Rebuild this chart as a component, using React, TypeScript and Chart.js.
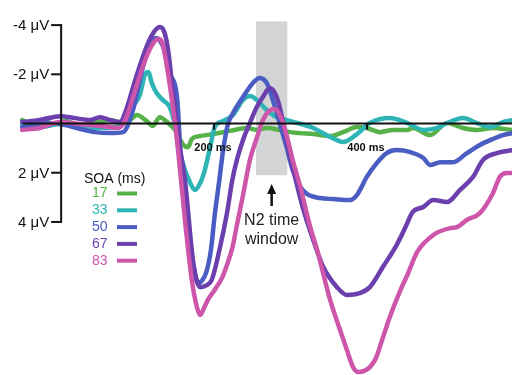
import React, { useEffect, useRef } from "react";
import { Chart, registerables } from "chart.js";

Chart.register(...registerables);

// ---------- data ----------
const soaLabels = ["17", "33", "50", "67", "83"];
const seriesColors = ["#55b148", "#2fb4b6", "#4a5dc2", "#6b3fae", "#cd56aa"];

const xRange = [-80, 590];
const yRange = [-5.02, 10.22];

const yTicks = [-4, -2, 2, 4];
const yTickLabels = ["-4 \u03bcV", "-2 \u03bcV", "2 \u03bcV", "4 \u03bcV"];
const xTicks = [200, 400];
const xTickLabels = ["200 ms", "400 ms"];
const axisStart = -50;

const windowStart = 255;
const windowEnd = 296;
const windowTop = -4.15;
const windowBottom = 2.1;
const windowLabel = ["N2 time", "window"];
const legendTitle = "SOA (ms)";

const ms17 = [-51, -37, -21, -8, 5, 25, 44, 64, 77, 90, 99, 112, 120, 129, 140, 149, 160, 166, 171, 182, 199, 221, 243, 256, 269, 286, 300, 313, 330, 352, 369, 387, 400, 417, 434, 453, 460, 483, 505, 526, 544, 565, 590];
const uv17 = [-0.14, 0.06, -0.06, 0.02, -0.1, 0.06, -0.02, -0.14, -0.06, -0.14, -0.35, -0.1, 0.1, -0.26, -0.02, 0.26, 0.87, 0.96, 0.63, 0.51, 0.43, 0.3, 0.18, 0.26, 0.18, 0.26, 0.35, 0.39, 0.43, 0.51, 0.35, 0.14, 0.18, 0.35, 0.26, 0.26, 0.18, 0.47, -0.02, 0.18, 0.26, 0.18, 0.26];

const ms33 = [-51, -28, -1, 25, 51, 71, 80, 86, 95, 103, 110, 114, 119, 125, 133, 142, 149, 158, 169, 175, 182, 188, 195, 201, 212, 225, 238, 247, 256, 269, 282, 295, 309, 330, 352, 369, 387, 404, 430, 453, 474, 492, 505, 526, 544, 561, 578, 590];
const uv33 = [0.02, 0.14, 0.02, 0.14, 0.18, 0.14, 0.02, -0.26, -0.75, -1.16, -2.01, -2.09, -1.61, -1.24, -0.96, -0.67, 0.06, 1.48, 2.42, 2.7, 2.42, 1.89, 0.96, 0.14, -0.1, -0.35, -0.96, -1.12, -0.96, -0.55, -0.26, -0.14, -0.02, 0.18, 0.55, 0.75, 0.43, -0.02, -0.22, -0.02, 0.26, 0.18, -0.02, -0.22, -0.02, 0.14, -0.06, -0.14];

const ms50 = [-51, -34, -15, 5, 25, 44, 64, 81, 94, 107, 116, 124, 129, 135, 142, 152, 158, 166, 175, 179, 184, 190, 196, 201, 207, 212, 218, 225, 238, 251, 260, 269, 277, 286, 295, 303, 313, 322, 339, 356, 378, 387, 400, 413, 426, 439, 457, 474, 483, 496, 513, 531, 548, 565, 578, 590];
const uv50 = [0.14, 0.06, -0.02, 0.06, 0.22, 0.35, 0.39, 0.35, -0.55, -2.3, -3.19, -3.48, -3.39, -2.98, -2.05, -0.96, 2.3, 4.33, 6.08, 6.48, 6.4, 6.04, 5.14, 3.72, 2.3, 1.08, 0.06, -0.43, -1.08, -1.65, -1.85, -1.65, -0.96, -0.02, 0.96, 1.89, 2.58, 2.87, 3.03, 3.07, 3.11, 2.91, 2.17, 1.61, 1.2, 1.08, 1.16, 1.4, 1.69, 1.57, 1.57, 1.2, 0.87, 0.63, 0.47, 0.39];

const ms67 = [-51, -28, -1, 18, 38, 51, 64, 77, 85, 97, 110, 119, 129, 135, 140, 146, 156, 162, 173, 182, 190, 197, 208, 217, 224, 230, 238, 247, 256, 264, 273, 282, 289, 295, 303, 316, 330, 343, 361, 374, 391, 404, 421, 439, 450, 460, 474, 487, 505, 522, 539, 552, 570, 590];
const uv67 = [-0.06, -0.14, -0.3, -0.22, -0.14, -0.26, -0.14, -0.06, -0.55, -1.77, -2.98, -3.6, -3.92, -3.72, -2.98, -1.36, 1.08, 2.3, 5.67, 6.65, 6.58, 6.36, 5.02, 3.64, 2.3, 1.48, 0.67, -0.02, -0.67, -1.08, -1.44, -1.08, -0.26, 0.67, 1.77, 3.39, 4.74, 5.83, 6.65, 6.97, 6.89, 6.65, 5.83, 4.94, 4.25, 3.6, 3.39, 3.11, 3.19, 2.7, 2.17, 1.48, 1.2, 1.08];

const ms83 = [-51, -28, -1, 25, 51, 75, 84, 97, 110, 119, 127, 132, 137, 145, 153, 162, 171, 178, 182, 187, 192, 199, 205, 211, 217, 224, 230, 238, 247, 256, 264, 272, 280, 288, 295, 303, 313, 326, 335, 352, 365, 374, 382, 389, 396, 404, 412, 420, 430, 444, 453, 466, 487, 509, 518, 531, 548, 565, 574, 583, 590];
const uv83 = [0.26, 0.18, -0.06, 0.02, 0.1, 0.18, -0.14, -1.36, -2.58, -3.19, -3.43, -3.31, -2.58, -0.96, 1.08, 3.92, 6.36, 7.5, 7.78, 7.5, 7.17, 6.85, 6.57, 6.24, 5.75, 5.06, 4.13, 2.91, 1.48, 0.59, -0.14, -0.51, -0.59, -0.22, 0.47, 1.48, 2.58, 4.21, 5.14, 7.17, 8.39, 9.21, 9.9, 10.1, 10.06, 9.9, 9.53, 8.8, 7.87, 6.77, 6.16, 5.22, 4.53, 4.25, 4.21, 3.92, 3.64, 2.83, 2.17, 2.01, 2.01];

const seriesMs = [ms17, ms33, ms50, ms67, ms83];
const seriesUv = [uv17, uv33, uv50, uv67, uv83];

const FONT = "'Liberation Sans', Arial, Helvetica, sans-serif";

const overlayPlugin = {
  id: "erpOverlay",
  beforeDatasetsDraw(chart: any) {
    const ctx = chart.ctx;
    const xs = chart.scales.x;
    const ys = chart.scales.y;
    const x1 = xs.getPixelForValue(windowStart);
    const x2 = xs.getPixelForValue(windowEnd);
    const y1 = ys.getPixelForValue(windowTop);
    const y2 = ys.getPixelForValue(windowBottom);
    ctx.save();
    ctx.fillStyle = "#d3d4d5";
    ctx.fillRect(x1, y1, x2 - x1, y2 - y1);
    ctx.restore();
  },
  afterDatasetsDraw(chart: any) {
    const ctx = chart.ctx;
    const xs = chart.scales.x;
    const ys = chart.scales.y;
    const area = chart.chartArea;
    const x0 = xs.getPixelForValue(0);
    const y0 = ys.getPixelForValue(0);
    ctx.save();
    ctx.strokeStyle = "#111";
    ctx.fillStyle = "#111";
    ctx.lineWidth = 2;
    ctx.lineCap = "butt";

    // x axis
    ctx.beginPath();
    ctx.moveTo(xs.getPixelForValue(axisStart), y0);
    ctx.lineTo(area.right, y0);
    ctx.stroke();
    xTicks.forEach((t, i) => {
      const px = Math.round(xs.getPixelForValue(t));
      ctx.beginPath();
      ctx.moveTo(px, y0);
      ctx.lineTo(px, y0 + 6);
      ctx.stroke();
      ctx.font = `600 11px ${FONT}`;
      ctx.textAlign = "center";
      ctx.textBaseline = "middle";
      ctx.fillText(xTickLabels[i], px - 1, y0 + 24.5);
    });

    // y axis
    const yTop = ys.getPixelForValue(yTicks[0]);
    const yBot = ys.getPixelForValue(yTicks[yTicks.length - 1]);
    ctx.beginPath();
    ctx.moveTo(x0, yTop - 1);
    ctx.lineTo(x0, yBot + 1);
    ctx.stroke();
    yTicks.forEach((t, i) => {
      const py = ys.getPixelForValue(t);
      ctx.beginPath();
      ctx.moveTo(x0 - 10, py);
      ctx.lineTo(x0, py);
      ctx.stroke();
      ctx.font = `15px ${FONT}`;
      ctx.textAlign = "right";
      ctx.textBaseline = "middle";
      ctx.fillText(yTickLabels[i], x0 - 12, py + 1);
    });

    // legend
    ctx.font = `14px ${FONT}`;
    ctx.textAlign = "left";
    ctx.textBaseline = "middle";
    ctx.fillStyle = "#111";
    ctx.fillText(legendTitle, 84, 179);
    soaLabels.forEach((lab, i) => {
      const ly = 193.5 + i * 16.8;
      ctx.fillStyle = seriesColors[i];
      ctx.fillText(lab, 92, ly);
      ctx.strokeStyle = seriesColors[i];
      ctx.lineWidth = 4;
      ctx.beginPath();
      ctx.moveTo(117, ly);
      ctx.lineTo(137, ly);
      ctx.stroke();
    });

    // arrow and window label
    const cx = (xs.getPixelForValue(windowStart) + xs.getPixelForValue(windowEnd)) / 2;
    ctx.strokeStyle = "#111";
    ctx.fillStyle = "#111";
    ctx.lineWidth = 2.5;
    ctx.beginPath();
    ctx.moveTo(cx, 206);
    ctx.lineTo(cx, 192);
    ctx.stroke();
    ctx.beginPath();
    ctx.moveTo(cx, 184);
    ctx.lineTo(cx - 4.5, 194);
    ctx.lineTo(cx + 4.5, 194);
    ctx.closePath();
    ctx.fill();
    ctx.font = `16px ${FONT}`;
    ctx.textAlign = "center";
    ctx.textBaseline = "middle";
    ctx.fillStyle = "#222";
    ctx.fillText(windowLabel[0], cx, 221);
    ctx.fillText(windowLabel[1], cx, 240);
    ctx.restore();
  },
};

export default function App() {
  const ref = useRef<HTMLCanvasElement | null>(null);
  useEffect(() => {
    document.body.style.margin = "0";
    const canvas = ref.current;
    if (!canvas) return;
    const drawOrder = [4, 3, 2, 1, 0];
    const chart = new Chart(canvas, {
      type: "line",
      data: {
        datasets: soaLabels.map((lab, i) => ({
          label: lab,
          data: seriesMs[i].map((m, j) => ({ x: m, y: seriesUv[i][j] })),
          borderColor: seriesColors[i],
          backgroundColor: seriesColors[i],
          borderWidth: 4.5,
          pointRadius: 0,
          fill: false,
          cubicInterpolationMode: "monotone" as const,
          borderCapStyle: "round" as const,
          borderJoinStyle: "round" as const,
          order: drawOrder[i],
        })),
      },
      options: {
        responsive: false,
        animation: false,
        layout: { padding: 0 },
        plugins: {
          legend: { display: false },
          tooltip: { enabled: false },
        },
        scales: {
          x: { type: "linear", min: xRange[0], max: xRange[1], display: false },
          y: { type: "linear", min: yRange[0], max: yRange[1], reverse: true, display: false },
        },
      },
      plugins: [overlayPlugin],
    });
    return () => chart.destroy();
  }, []);
  return (
    <canvas
      ref={ref}
      width={512}
      height={375}
      style={{ display: "block", position: "fixed", left: 0, top: 0, width: 512, height: 375 }}
    />
  );
}
